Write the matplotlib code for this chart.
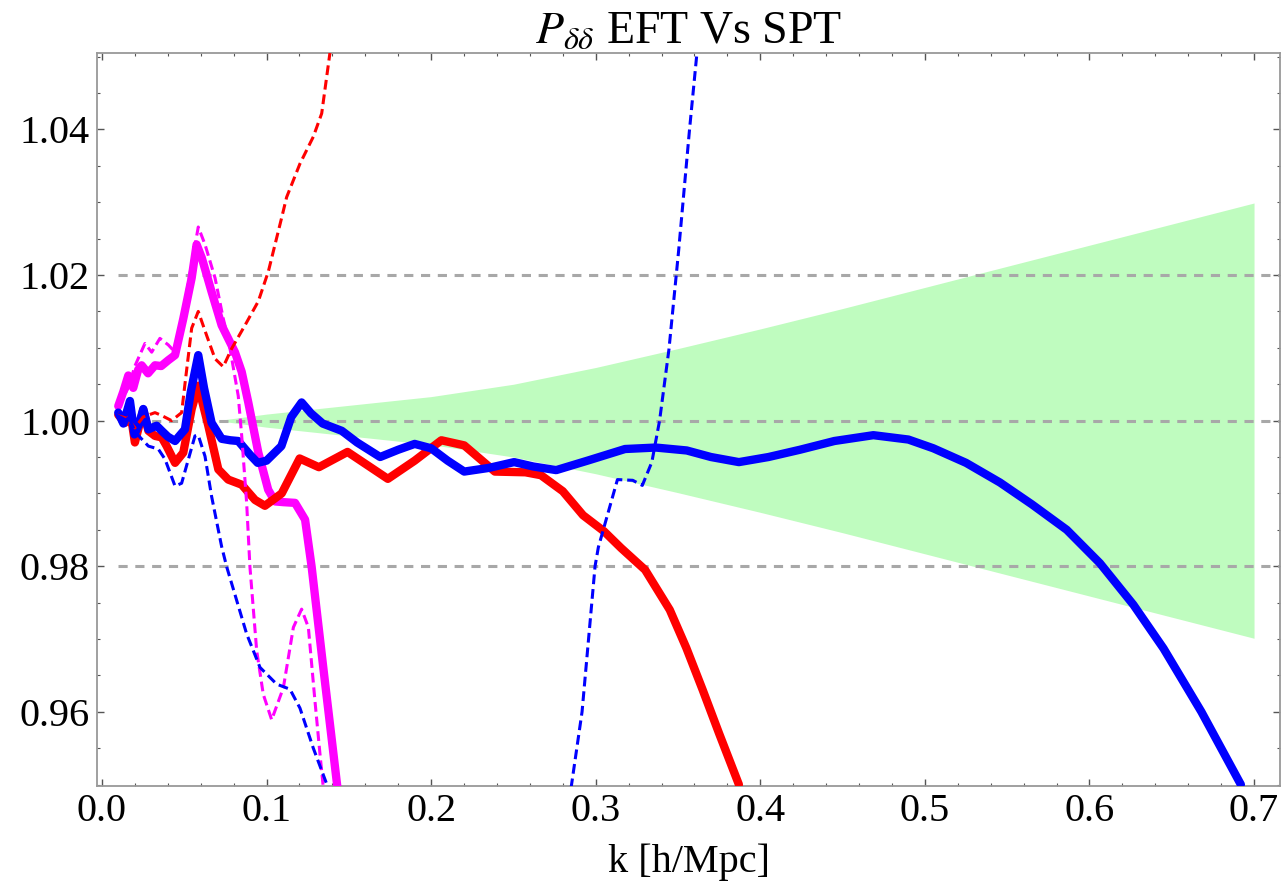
import numpy as np
import matplotlib
matplotlib.use("Agg")
import matplotlib.pyplot as plt
from matplotlib.ticker import MultipleLocator, FixedLocator

plt.rcParams["font.family"] = ["Liberation Serif", "DejaVu Serif"]
plt.rcParams["mathtext.fontset"] = "stix"

# ---- data ----
blue_k = [0.0099, 0.013, 0.017, 0.0197, 0.0225, 0.0251, 0.0282, 0.0332, 0.0363, 0.040,
          0.0444, 0.0504, 0.054, 0.0585, 0.062, 0.0666, 0.0727, 0.078, 0.0828, 0.090,
          0.0946, 0.100, 0.109, 0.115, 0.1213, 0.127, 0.1341, 0.1457, 0.155, 0.169,
          0.180, 0.190, 0.200, 0.210, 0.2201, 0.235, 0.2504, 0.262, 0.276, 0.295,
          0.3178, 0.3365, 0.3553, 0.370, 0.387, 0.405, 0.4241, 0.445, 0.4687, 0.490,
          0.5051, 0.525, 0.5456, 0.565, 0.5862, 0.6064, 0.6267, 0.645, 0.668, 0.692]
blue_v = [1.0011, 0.9996, 1.0027, 0.9981, 0.9995, 1.0016, 0.9988, 0.9993, 0.9986, 0.9978,
          0.9972, 0.9988, 1.0040, 1.0090, 1.0045, 0.9997, 0.9975, 0.9973, 0.9972, 0.9953,
          0.9942, 0.9945, 0.9965, 1.0005, 1.0025, 1.0010, 0.9996, 0.9986, 0.9970, 0.9950,
          0.9960, 0.9968, 0.9962, 0.9945, 0.9930, 0.9935, 0.9943, 0.9937, 0.9932, 0.9945,
          0.9961, 0.9963, 0.9959, 0.9950, 0.9943, 0.9950, 0.9960, 0.9972, 0.9980, 0.9974,
          0.9962, 0.9942, 0.9915, 0.9885, 0.9850, 0.9804, 0.9747, 0.9687, 0.9600, 0.9500]

red_k = [0.0099, 0.014, 0.017, 0.020, 0.0251, 0.0282, 0.0322, 0.0363, 0.0393, 0.0444,
         0.0494, 0.0545, 0.0585, 0.0646, 0.0707, 0.0767, 0.0849, 0.093, 0.099, 0.1092,
         0.1201, 0.1318, 0.1492, 0.1737, 0.190, 0.2062, 0.2201, 0.2387, 0.2573, 0.2667,
         0.280, 0.2923, 0.305, 0.3154, 0.330, 0.345, 0.355, 0.365, 0.375, 0.387]
red_v = [1.0008, 0.9997, 1.0015, 0.9970, 1.0015, 0.9986, 0.9979, 0.9977, 0.9965, 0.9942,
         0.9956, 1.0016, 1.0048, 0.9993, 0.9933, 0.9919, 0.9912, 0.9891, 0.9883, 0.9900,
         0.9948, 0.9936, 0.9957, 0.9920, 0.9945, 0.9973, 0.9966, 0.9930, 0.9929, 0.9925,
         0.9903, 0.9870, 0.9848, 0.9825, 0.9795, 0.9740, 0.9688, 0.9630, 0.9570, 0.9500]

mag_k = [0.0099, 0.013, 0.016, 0.019, 0.022, 0.0241, 0.028, 0.0322, 0.036, 0.0403,
         0.0444, 0.0494, 0.0545, 0.0575, 0.0606, 0.0666, 0.0727, 0.0808, 0.0849, 0.0889,
         0.095, 0.101, 0.1051, 0.1102, 0.1173, 0.1234, 0.1274, 0.1345, 0.143]
mag_v = [1.0020, 1.0040, 1.0062, 1.0045, 1.0070, 1.0076, 1.0065, 1.0076, 1.0075, 1.0083,
         1.0090, 1.0140, 1.0196, 1.0242, 1.0224, 1.0177, 1.0131, 1.0094, 1.0067, 1.0025,
         0.9956, 0.9905, 0.9889, 0.9888, 0.9887, 0.9864, 0.9799, 0.9660, 0.9497]

red_d_k = [0.0099, 0.015, 0.020, 0.025, 0.0322, 0.0363, 0.0423, 0.0484, 0.0504, 0.0545,
           0.0585, 0.0636, 0.0687, 0.0737, 0.0788, 0.0869, 0.095, 0.1011, 0.1092, 0.1122,
           0.1203, 0.1284, 0.1335, 0.1385]
red_d_v = [1.0011, 1.0005, 0.9990, 1.0005, 1.0011, 1.0007, 1.0000, 1.0011, 1.0050, 1.0127,
           1.0150, 1.0117, 1.0085, 1.0074, 1.0099, 1.0131, 1.0164, 1.0205, 1.0279, 1.0307,
           1.0353, 1.0390, 1.0422, 1.0505]

mag_d_k = [0.0099, 0.016, 0.020, 0.0261, 0.0302, 0.0352, 0.0403, 0.0444, 0.0494, 0.0545,
           0.0585, 0.0626, 0.0687, 0.0737, 0.0767, 0.0828, 0.0849, 0.0879, 0.0899, 0.094,
           0.098, 0.1031, 0.1102, 0.1163, 0.1213, 0.1254, 0.1294, 0.1325, 0.1345]
mag_d_v = [1.0020, 1.0045, 1.0075, 1.0106, 1.0094, 1.0113, 1.0104, 1.0094, 1.0150, 1.0215,
           1.0266, 1.0242, 1.0196, 1.0140, 1.0113, 1.0034, 0.9979, 0.9887, 0.9799, 0.9684,
           0.9624, 0.9589, 0.9633, 0.9716, 0.9741, 0.9716, 0.9615, 0.9541, 0.9495]

blue_d_k = [0.0099, 0.016, 0.020, 0.024, 0.0282, 0.0342, 0.0383, 0.0444, 0.0484, 0.0565,
            0.0585, 0.0626, 0.0666, 0.0727, 0.0758, 0.0879, 0.096, 0.1061, 0.1142, 0.1203,
            0.1284, 0.1375, np.nan,
            0.285, 0.2917, 0.2996, 0.3016, 0.3132, 0.3225, 0.3283, 0.3341, 0.3388, 0.3445,
            0.3504, 0.357, 0.3615]
blue_d_v = [1.0011, 1.0007, 0.9985, 0.9975, 0.9965, 0.9961, 0.9947, 0.9910, 0.9914, 0.9979,
            0.9980, 0.9951, 0.9896, 0.9827, 0.9799, 0.9707, 0.9661, 0.9638, 0.9631, 0.9605,
            0.9550, 0.9495, np.nan,
            0.9495, 0.9600, 0.9800, 0.9826, 0.9919, 0.9918, 0.9911, 0.9943, 1.0000, 1.0098,
            1.0234, 1.0400, 1.0505]

band_k = [0.07, 0.10, 0.15, 0.20, 0.25, 0.30, 0.35, 0.40, 0.45, 0.50, 0.55, 0.60, 0.65, 0.70]
band_half = [0.0, 0.0009, 0.0021, 0.0033, 0.0050, 0.0073, 0.0099, 0.0126, 0.0154, 0.0183,
             0.0212, 0.0241, 0.0270, 0.0299]

ref_lines = [0.98, 1.00, 1.02]

fig = plt.figure(figsize=(12.87, 8.93), dpi=100)
ax = fig.add_axes([0.0754, 0.1198, 0.9192, 0.8208])

bk = np.array(band_k)
bh = np.array(band_half)
ax.fill_between(bk, 1 - bh, 1 + bh, color=(0.5, 0.98, 0.5), alpha=0.5, lw=0, zorder=1)

for y in ref_lines:
    ax.plot([0.01, 0.716], [y, y], color="#a8a8a8", lw=2.2, dashes=(3, 2.5), zorder=2)

thick = 6.0
thin = 2.2
solid_kw = dict(lw=thick, solid_joinstyle="round", solid_capstyle="round")
ax.plot(mag_k, mag_v, color="#ff00ff", zorder=3, **solid_kw)
ax.plot(red_k, red_v, color="#ff0000", zorder=4, **solid_kw)
ax.plot(blue_k, blue_v, color="#0000ff", zorder=5, **solid_kw)
ax.plot(mag_d_k, mag_d_v, color="#ff00ff", lw=thin, dashes=(3.2, 1.6), zorder=6)
ax.plot(red_d_k, red_d_v, color="#ff0000", lw=thin, dashes=(3.2, 1.6), zorder=6)
ax.plot(blue_d_k, blue_d_v, color="#0000ff", lw=thin, dashes=(3.2, 1.6), zorder=6)

ax.set_xlim(-0.003, 0.7158)
ax.set_ylim(0.9498, 1.0505)

ax.xaxis.set_major_locator(FixedLocator([0.0, 0.1, 0.2, 0.3, 0.4, 0.5, 0.6, 0.7]))
ax.xaxis.set_minor_locator(MultipleLocator(0.02))
ax.yaxis.set_major_locator(FixedLocator([0.96, 0.98, 1.00, 1.02, 1.04]))
ax.yaxis.set_minor_locator(MultipleLocator(0.005))
ax.set_xticklabels(["0.0", "0.1", "0.2", "0.3", "0.4", "0.5", "0.6", "0.7"])
ax.set_yticklabels(["0.96", "0.98", "1.00", "1.02", "1.04"])

ax.tick_params(which="both", direction="in", top=True, right=True, color="#555555")
ax.tick_params(which="major", length=5, width=1, labelsize=29, pad=5)
ax.tick_params(which="minor", length=2.5, width=0.8)
for sp in ax.spines.values():
    sp.set_color("#999999")
    sp.set_linewidth(1.3)

ax.set_xlabel("k [h/Mpc]", fontsize=29, labelpad=10)
ax.set_title(r"$P_{\delta\delta}$ EFT Vs SPT", fontsize=33, pad=5)

fig.savefig("out.png", dpi=100)
